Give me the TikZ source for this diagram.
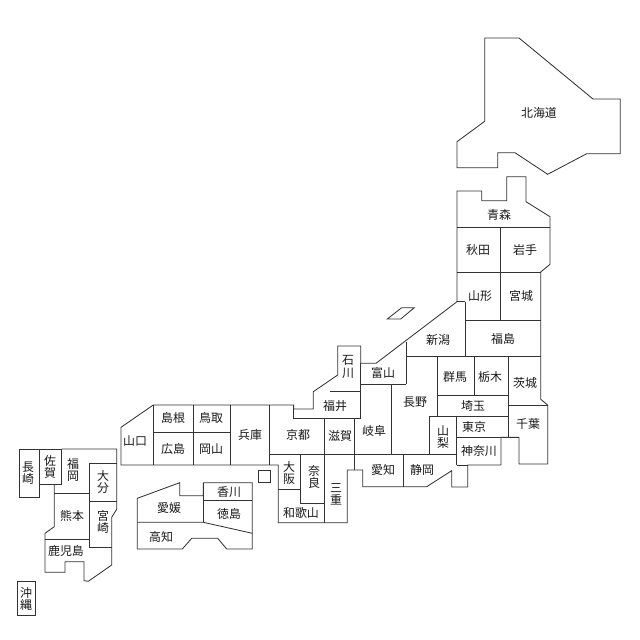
\documentclass[tikz,border=0pt]{standalone}
\usepackage{fontspec}
\newfontfamily\cjk{Noto Sans CJK JP}
\tikzset{
	border/.style={draw=black!80,line width=0.6pt,line join=miter},
	pref/.style={font=\cjk\fontsize{8.5}{8.7}\selectfont,align=center,inner sep=0pt,text=black!90},
}
\begin{document}
\begin{tikzpicture}[x=0.025cm,y=-0.025cm]
	\useasboundingbox (0,0) rectangle (640,640);
	% Hokkaido and Sado
	\draw[border] (484.7,38) -- (519,38) -- (593,99) -- (620.3,99) -- (620.3,153.7) -- (586.7,153.7) -- (547.7,174.3) -- (515,152.7) -- (497.7,152.7) -- (497.7,167.7) -- (457,167.7) -- (457,141.7) -- (484.7,121.3) -- cycle;
	\draw[border] (387.3,319) -- (401.7,307.7) -- (414.3,307.7) -- (400.7,319) -- cycle;
	% Tohoku
	\draw[border] (457,227.3) -- (457,191) -- (481.7,191) -- (481.7,200.7) -- (506.7,200.7) -- (506.7,176.7) -- (526,176.7) -- (526,201.7) -- (550,216.7) -- (550,264.3) -- (540.7,272) -- (540.7,399.3) -- (547.7,405) -- (547.7,464) -- (519,464) -- (519,437.3) -- (501,437.3) -- (501,465) -- (467.7,465) -- (467.7,487) -- (451.7,487) -- (451.7,470.7) -- (426.7,486.7) -- (362.7,486.7) -- (362.7,470) -- (347.3,470) -- (347.3,522.7) -- (278.3,522.7) -- (278.3,465) -- (269,465) -- (121,465) -- (121,427.3) -- (153.3,405) -- (293.7,405) -- (293.7,409) -- (313.3,409) -- (313.3,391.7) -- (337.7,375) -- (337.7,346) -- (360.7,346) -- (360.7,363.3) -- (376,363.3) -- (457,301.7) -- (457,191);
	\draw[border] (457,227.3) -- (550,227.3);
	\draw[border] (457,272) -- (540.7,272);
	\draw[border] (500.3,227.3) -- (500.3,320.7);
	\draw[border] (465,301.7) -- (465,356.7);
	\draw[border] (457,301.7) -- (465,301.7);
	\draw[border] (465,320.7) -- (540.7,320.7);
	% Kanto and Chubu
	\draw[border] (406,356.7) -- (540.7,356.7);
	\draw[border] (406,341.7) -- (406,384.3);
	\draw[border] (360.7,363.3) -- (360.7,418.7);
	\draw[border] (360.7,384.3) -- (406,384.3);
	\draw[border] (391.7,384.3) -- (391.7,454);
	\draw[border] (437.3,356.7) -- (437.3,416);
	\draw[border] (474,356.7) -- (474,395.7);
	\draw[border] (508.3,356.7) -- (508.3,437.3);
	\draw[border] (437.3,395.7) -- (508.3,395.7);
	\draw[border] (429.3,416) -- (508.3,416);
	\draw[border] (508.3,405) -- (547.7,405);
	\draw[border] (429.3,416) -- (429.3,454);
	\draw[border] (456.7,416) -- (456.7,465);
	\draw[border] (456.7,437.3) -- (519,437.3);
	\draw[border] (456.7,465) -- (467.7,465);
	\draw[border] (269,454) -- (456.7,454);
	\draw[border] (403,454) -- (403,486.7);
	\draw[border] (354,418.7) -- (354,470);
	\draw[border] (330,391.7) -- (360.7,391.7);
	% Kinki
	\draw[border] (293.7,405) -- (293.7,418.7) -- (360.7,418.7);
	\draw[border] (324.7,418.7) -- (324.7,522.7);
	\draw[border] (269,405) -- (269,465);
	\draw[border] (278.3,489) -- (300.7,489);
	\draw[border] (300.7,454) -- (300.7,503.7) -- (324.7,503.7);
	\draw[border] (258.3,470.3) rectangle (270.7,482.7);
	% Chugoku
	\draw[border] (153.3,405) -- (153.3,465);
	\draw[border] (193.7,405) -- (193.7,465);
	\draw[border] (230.7,405) -- (230.7,465);
	\draw[border] (153.3,432.3) -- (230.7,432.3);
	% Shikoku
	\draw[border] (137.3,498.3) -- (179.7,482.7) -- (179.7,495.7) -- (203.3,495.7) -- (203.3,482.7) -- (252.3,482.7) -- (252.3,549) -- (226.7,549) -- (217.7,538.3) -- (191.7,538.3) -- (182.3,549) -- (137.3,549) -- cycle;
	\draw[border] (203.3,482.7) -- (203.3,522.3);
	\draw[border] (203.3,500) -- (252.3,500);
	\draw[border] (137.3,522.3) -- (203.3,522.3) -- (252.3,533.3);
	% Kyushu and Okinawa
	\draw[border] (19,449) rectangle (39,497.3);
	\draw[border] (39,449) rectangle (61.7,484);
	\draw[border] (61.7,449) -- (116.7,449) -- (116.7,501.3) -- (116.7,509.3) -- (111.7,517.3) -- (111.7,565) -- (88.3,581.3) -- (84,580.7) -- (84,561.7) -- (65,561.7) -- (65,572.3) -- (45,572.3) -- (45,533.3) -- (54.3,526.7) -- (54.3,484);
	\draw[border] (116.7,463.3) -- (89.3,463.3) -- (89.3,547.3) -- (111.7,547.3);
	\draw[border] (54.3,493.3) -- (89.3,493.3);
	\draw[border] (89.3,501.3) -- (116.7,501.3);
	\draw[border] (45,539) -- (89.3,539);
	\draw[border] (17.3,581.7) rectangle (35.3,615);
	% names
	\node[pref] (hokkaido) at (539,113) {北海道};
	\node[pref] (aomori) at (499,215) {青森};
	\node[pref] (akita) at (478,250) {秋田};
	\node[pref] (iwate) at (525,250) {岩手};
	\node[pref] (yamagata) at (480,296) {山形};
	\node[pref] (miyagi) at (521,296) {宮城};
	\node[pref] (niigata) at (438,340) {新潟};
	\node[pref] (fukushima) at (503,339) {福島};
	\node[pref] (ishikawa) at (348,367) {石\\川};
	\node[pref] (toyama) at (383,373) {富山};
	\node[pref] (gunma) at (455,377) {群馬};
	\node[pref] (tochigi) at (490,377) {栃木};
	\node[pref] (ibaraki) at (525,383) {茨城};
	\node[pref] (nagano) at (415,402) {長野};
	\node[pref] (saitama) at (473,406) {埼玉};
	\node[pref] (fukui) at (335,406) {福井};
	\node[pref] (chiba) at (528,424) {千葉};
	\node[pref] (tokyo) at (474,427) {東京};
	\node[pref] (yamanashi) at (443,437) {山\\梨};
	\node[pref] (kanagawa) at (479,451) {神奈川};
	\node[pref] (shimane) at (173,418) {島根};
	\node[pref] (tottori) at (211,418) {鳥取};
	\node[pref] (yamaguchi) at (135,441) {山口};
	\node[pref] (hyogo) at (250,435) {兵庫};
	\node[pref] (kyoto) at (298,435) {京都};
	\node[pref] (shiga) at (340,436) {滋賀};
	\node[pref] (gifu) at (374,431) {岐阜};
	\node[pref] (hiroshima) at (173,449) {広島};
	\node[pref] (okayama) at (211,449) {岡山};
	\node[pref] (aichi) at (383,470) {愛知};
	\node[pref] (shizuoka) at (422,470) {静岡};
	\node[pref] (osaka) at (289,473) {大\\阪};
	\node[pref] (nara) at (314,477) {奈\\良};
	\node[pref] (mie) at (336,494) {三\\重};
	\node[pref] (wakayama) at (301,513) {和歌山};
	\node[pref] (kagawa) at (229,492) {香川};
	\node[pref] (ehime) at (169,508) {愛媛};
	\node[pref] (tokushima) at (229,514) {徳島};
	\node[pref] (kochi) at (161,537) {高知};
	\node[pref] (nagasaki) at (28,473) {長\\崎};
	\node[pref] (saga) at (50,467) {佐\\賀};
	\node[pref] (fukuoka) at (73,470) {福\\岡};
	\node[pref] (oita) at (103,482) {大\\分};
	\node[pref] (kumamoto) at (72,516) {熊本};
	\node[pref] (miyazaki) at (103,522) {宮\\崎};
	\node[pref] (kagoshima) at (66,551) {鹿児島};
	\node[pref] (okinawa) at (26,599) {沖\\縄};
\end{tikzpicture}
\end{document}
